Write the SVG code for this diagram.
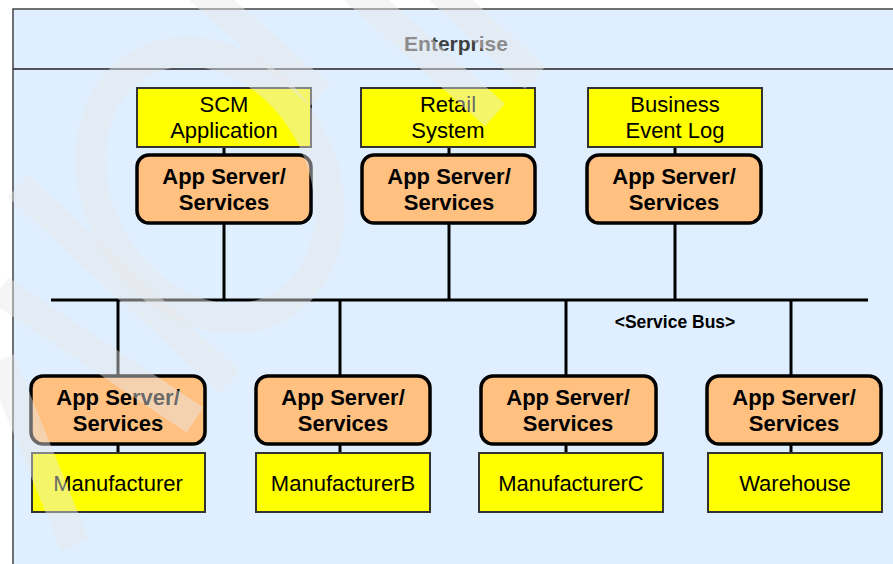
<svg xmlns="http://www.w3.org/2000/svg" width="893" height="564" viewBox="0 0 893 564">
<style>
.frame{fill:#DFEFFF;stroke:#444;stroke-width:1.5}
.hdr{stroke:#222;stroke-width:1.5}
.app{fill:#FFFF00;stroke:#333;stroke-width:2}
.srv{fill:#FFC080;stroke:#000;stroke-width:3.5}
.t{font-family:"Liberation Sans",Arial,sans-serif;font-size:22px;fill:#000;text-anchor:middle}
.b{font-weight:bold}
.title{font-family:"Liberation Sans",Arial,sans-serif;font-size:21px;font-weight:bold;fill:#404040;text-anchor:middle}
.bus{font-family:"Liberation Sans",Arial,sans-serif;font-size:17.5px;font-weight:bold;fill:#000;text-anchor:middle}
.c{stroke:#000;stroke-width:3;fill:none}
.wm{stroke:#E8E8E8;stroke-opacity:0.45;fill:none;stroke-width:30}
</style>
<rect width="893" height="564" fill="#fff"/>
<g id="enterprise">
<rect class="frame" x="13" y="9" width="900" height="570"/>
<line class="hdr" x1="13" y1="69" x2="893" y2="69"/>
<text class="title" x="456" y="51">Enterprise</text>
</g>
<g id="connectors">
<line class="c" x1="51" y1="300" x2="868" y2="300"/>
<line class="c" x1="224" y1="147" x2="224" y2="300"/>
<line class="c" x1="449" y1="147" x2="449" y2="300"/>
<line class="c" x1="675" y1="147" x2="675" y2="300"/>
<line class="c" x1="118" y1="300" x2="118" y2="453"/>
<line class="c" x1="340" y1="300" x2="340" y2="453"/>
<line class="c" x1="566" y1="300" x2="566" y2="453"/>
<line class="c" x1="791" y1="300" x2="791" y2="453"/>
<text class="bus" x="675" y="328">&lt;Service Bus&gt;</text>
</g>
<g id="scm">
<rect class="app" x="137" y="88" width="174" height="59"/>
<text class="t" x="224" y="112">SCM</text>
<text class="t" x="224" y="138">Application</text>
</g>
<g id="scm-server">
<rect class="srv" x="137" y="155" width="174" height="68" rx="12"/>
<text class="t b" x="224" y="184">App Server/</text>
<text class="t b" x="224" y="210">Services</text>
</g>
<g id="retail">
<rect class="app" x="361" y="88" width="174" height="59"/>
<text class="t" x="448" y="112">Retail</text>
<text class="t" x="448" y="138">System</text>
</g>
<g id="retail-server">
<rect class="srv" x="362" y="155" width="173" height="68" rx="12"/>
<text class="t b" x="449" y="184">App Server/</text>
<text class="t b" x="449" y="210">Services</text>
</g>
<g id="eventlog">
<rect class="app" x="588" y="88" width="174" height="59"/>
<text class="t" x="675" y="112">Business</text>
<text class="t" x="675" y="138">Event Log</text>
</g>
<g id="eventlog-server">
<rect class="srv" x="587" y="155" width="174" height="68" rx="12"/>
<text class="t b" x="674" y="184">App Server/</text>
<text class="t b" x="674" y="210">Services</text>
</g>
<g id="mfr-server">
<rect class="srv" x="31" y="376" width="174" height="68" rx="12"/>
<text class="t b" x="118" y="405">App Server/</text>
<text class="t b" x="118" y="431">Services</text>
</g>
<g id="mfr">
<rect class="app" x="32" y="453" width="173" height="59"/>
<text class="t" x="118" y="491">Manufacturer</text>
</g>
<g id="mfrb-server">
<rect class="srv" x="256" y="376" width="174" height="68" rx="12"/>
<text class="t b" x="343" y="405">App Server/</text>
<text class="t b" x="343" y="431">Services</text>
</g>
<g id="mfrb">
<rect class="app" x="256" y="453" width="174" height="59"/>
<text class="t" x="343" y="491">ManufacturerB</text>
</g>
<g id="mfrc-server">
<rect class="srv" x="481" y="376" width="175" height="68" rx="12"/>
<text class="t b" x="568" y="405">App Server/</text>
<text class="t b" x="568" y="431">Services</text>
</g>
<g id="mfrc">
<rect class="app" x="479" y="453" width="184" height="59"/>
<text class="t" x="571" y="491">ManufacturerC</text>
</g>
<g id="warehouse-server">
<rect class="srv" x="707" y="376" width="174" height="68" rx="12"/>
<text class="t b" x="794" y="405">App Server/</text>
<text class="t b" x="794" y="431">Services</text>
</g>
<g id="warehouse">
<rect class="app" x="708" y="453" width="174" height="59"/>
<text class="t" x="795" y="491">Warehouse</text>
</g>
<g id="watermark" class="wm">
<ellipse cx="210" cy="185" rx="140" ry="112" transform="rotate(60 210 185)"/>
<line x1="200" y1="-10" x2="320" y2="95"/>
<line x1="355" y1="-10" x2="495" y2="115"/>
<line x1="440" y1="-10" x2="535" y2="78"/>
<line x1="18" y1="186" x2="230" y2="382"/>
<line x1="0" y1="290" x2="195" y2="420"/>
<line x1="0" y1="360" x2="75" y2="545"/>
</g>
</svg>
